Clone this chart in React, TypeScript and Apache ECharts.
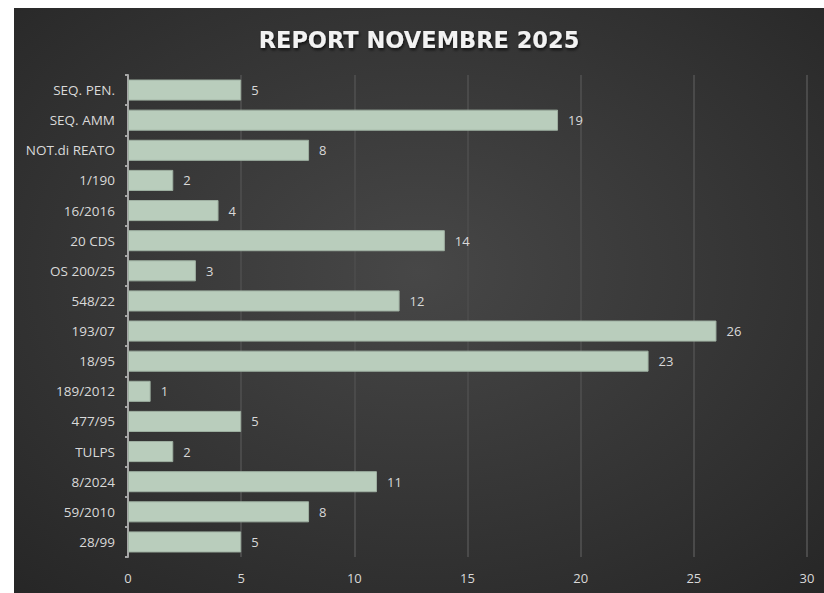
import React, { useEffect, useRef } from "react";
import * as echarts from "echarts";

const categories = [
  "SEQ. PEN.",
  "SEQ. AMM",
  "NOT.di REATO",
  "1/190",
  "16/2016",
  "20 CDS",
  "OS 200/25",
  "548/22",
  "193/07",
  "18/95",
  "189/2012",
  "477/95",
  "TULPS",
  "8/2024",
  "59/2010",
  "28/99",
];
const values = [5, 19, 8, 2, 4, 14, 3, 12, 26, 23, 1, 5, 2, 11, 8, 5];
const xTicks = { min: 0, max: 30, interval: 5 };
const title = "REPORT NOVEMBRE 2025";

export default function App() {
  const ref = useRef<HTMLDivElement>(null);
  useEffect(() => {
    if (!ref.current) return;
    const chart = echarts.init(ref.current, null, { renderer: "svg" });
    chart.setOption({
      animation: false,
      backgroundColor: {
        type: "radial",
        x: 0.5,
        y: 0.45,
        r: 0.75,
        colorStops: [
          { offset: 0, color: "#474747" },
          { offset: 1, color: "#262626" },
        ],
      },
      title: {
        text: title,
        left: "center",
        top: 15,
        textStyle: {
          color: "#f2f2f2",
          fontFamily: "DejaVu Sans",
          fontWeight: "bold",
          fontSize: 22.5,
          textShadowColor: "rgba(0,0,0,0.7)",
          textShadowBlur: 3,
          textShadowOffsetX: 1,
          textShadowOffsetY: 2,
        },
      },
      grid: { left: 114, right: 17, top: 67, bottom: 36, containLabel: false },
      xAxis: {
        type: "value",
        min: xTicks.min,
        max: xTicks.max,
        interval: xTicks.interval,
        axisLine: { show: false },
        axisTick: { show: false },
        axisLabel: {
          color: "#d9d9d9",
          fontFamily: "Open Sans",
          fontSize: 13,
          margin: 14,
        },
        splitLine: {
          show: true,
          lineStyle: { color: "#4a4a4a", width: 2 },
        },
      },
      yAxis: {
        type: "category",
        data: categories,
        inverse: true,
        axisLine: { show: true, lineStyle: { color: "#a6a6a6", width: 2 } },
        axisTick: { show: true, length: 3, lineStyle: { color: "#a6a6a6", width: 2 } },
        axisLabel: {
          color: "#d9d9d9",
          fontFamily: "Open Sans",
          fontSize: 13.5,
          margin: 13,
        },
        splitLine: { show: false },
      },
      series: [
        {
          type: "bar",
          data: values,
          barCategoryGap: "30%",
          itemStyle: {
            color: "#b9cdbc",
            borderColor: "#9fb0a2",
            borderWidth: 1,
          },
          label: {
            show: true,
            position: "right",
            distance: 10,
            color: "#d9d9d9",
            fontFamily: "Open Sans",
            fontSize: 13,
          },
        },
      ],
    });
    return () => chart.dispose();
  }, []);
  return (
    <div
      ref={ref}
      style={{ position: "absolute", left: 14, top: 8, width: 810, height: 585 }}
    />
  );
}
